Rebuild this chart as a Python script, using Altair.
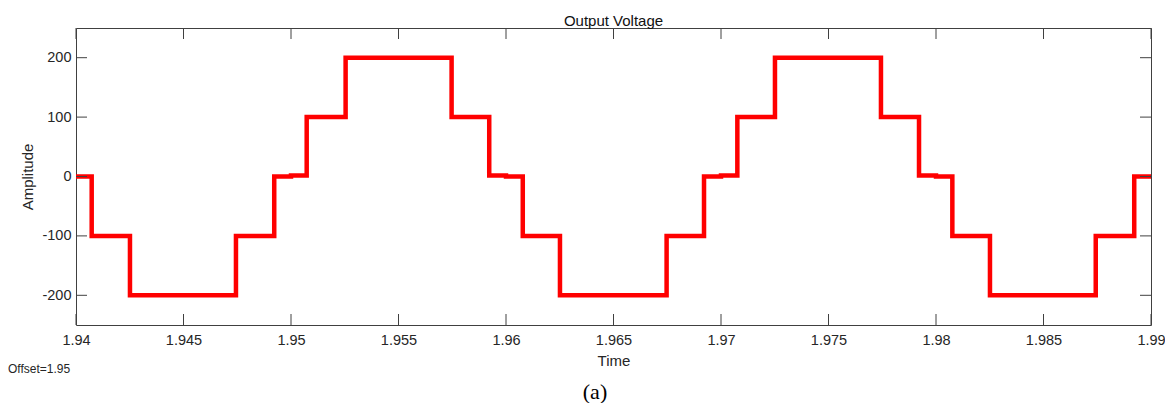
import altair as alt
import pandas as pd

# Step waveform (transition times and levels)
times = [1.94, 1.94073, 1.94251, 1.94744, 1.94922, 1.95, 1.95073, 1.95254,
         1.95747, 1.95922, 1.96, 1.96078, 1.96251, 1.96747, 1.96921, 1.97,
         1.97076, 1.97251, 1.97744, 1.97921, 1.98, 1.98076, 1.98251, 1.98743,
         1.98922, 1.99]
values = [0, -100, -200, -100, 0, 1.5, 100, 200,
          100, 1.5, 0, -100, -200, -100, 0, 1.5,
          100, 200, 100, 1.5, 0, -100, -200, -100,
          0, 0]
x_ticks = [1.94, 1.945, 1.95, 1.955, 1.96, 1.965, 1.97, 1.975, 1.98, 1.985, 1.99]
y_ticks = [-200, -100, 0, 100, 200]
offset_label = ["Offset=1.95"]
caption = ["(a)"]

W, H = 1075, 297
FONT = "Liberation Sans"
AX = "#404040"
TICK = 11

wave = pd.DataFrame({"Time": times, "Amplitude": values})
xt = pd.DataFrame({"Time": x_ticks})
yt = pd.DataFrame({"Amplitude": y_ticks})

xscale = alt.Scale(domain=[1.94, 1.99], nice=False, zero=False)
yscale = alt.Scale(domain=[-250, 250], nice=False, zero=False)
xaxis = alt.Axis(title="Time", values=x_ticks, labelExpr="'' + datum.value",
                 ticks=False, domain=False, grid=False, labelPadding=8,
                 titlePadding=7, labelFlush=False, labelOverlap=False)
yaxis = alt.Axis(title="Amplitude", values=y_ticks, labelExpr="'' + datum.value",
                 ticks=False, domain=False, grid=False, labelPadding=5,
                 titlePadding=6)

line = alt.Chart(wave).mark_line(
    color="#ff0000", strokeWidth=4.5, interpolate="step-after", clip=True
).encode(
    x=alt.X("Time:Q", scale=xscale, axis=xaxis),
    y=alt.Y("Amplitude:Q", scale=yscale, axis=yaxis),
)

bottom_ticks = alt.Chart(xt).mark_rule(color=AX, strokeWidth=1).encode(
    x=alt.X("Time:Q", scale=xscale, axis=xaxis), y=alt.value(H), y2=alt.value(H - TICK))
top_ticks = alt.Chart(xt).mark_rule(color=AX, strokeWidth=1).encode(
    x=alt.X("Time:Q", scale=xscale, axis=xaxis), y=alt.value(0), y2=alt.value(TICK))
left_ticks = alt.Chart(yt).mark_rule(color=AX, strokeWidth=1).encode(
    y=alt.Y("Amplitude:Q", scale=yscale, axis=yaxis), x=alt.value(0), x2=alt.value(TICK))
right_ticks = alt.Chart(yt).mark_rule(color=AX, strokeWidth=1).encode(
    y=alt.Y("Amplitude:Q", scale=yscale, axis=yaxis), x=alt.value(W), x2=alt.value(W - TICK))

offset_text = alt.Chart(pd.DataFrame({"s": offset_label})).mark_text(
    align="left", baseline="middle", fontSize=12, font=FONT, color="#262626"
).encode(x=alt.value(-68), y=alt.value(341), text="s:N")

caption_text = alt.Chart(pd.DataFrame({"s": caption})).mark_text(
    align="center", baseline="alphabetic", fontSize=22, font="Liberation Serif", color="#000000"
).encode(x=alt.value(519), y=alt.value(370.5), text="s:N")

chart = alt.layer(
    line, bottom_ticks, top_ticks, left_ticks, right_ticks, offset_text, caption_text
).properties(
    width=W, height=H,
    title=alt.Title("Output Voltage", fontSize=15, font=FONT, fontWeight="normal",
                    color="#111111", offset=-1),
    autosize=alt.AutoSizeParams(type="none"),
    padding={"left": 68, "top": 20, "right": 14, "bottom": 78},
).configure_view(
    stroke=AX, strokeWidth=1
).configure_axis(
    labelFont=FONT, labelFontSize=14.5, labelColor="#262626",
    titleFont=FONT, titleFontSize=15, titleColor="#262626", titleFontWeight="normal"
)

chart.save("out.html", embed_options={"renderer": "svg", "actions": False})
